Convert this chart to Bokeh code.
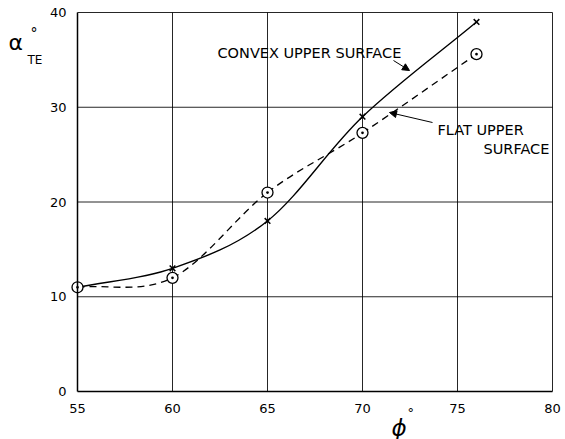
import numpy as np
from bokeh.plotting import figure
from bokeh.models import Label, Arrow, NormalHead, Range1d, FixedTicker, ColumnDataSource
from bokeh.embed import file_html
from bokeh.resources import INLINE

# ---- data ----
phi = [55, 60, 65, 70, 76]
alpha_convex = [11, 13, 18, 29, 39]
alpha_flat = [11, 12, 21, 27.3, 35.6]

x_ticks = [55, 60, 65, 70, 75, 80]
y_ticks = [0, 10, 20, 30, 40]

label_convex = "CONVEX UPPER SURFACE"
label_flat_1 = "FLAT UPPER"
label_flat_2 = "SURFACE"


def smooth_segments(xs, ys):
    """Cubic Bezier segments (Catmull-Rom style) passing through the data points."""
    x = np.array(xs, float)
    y = np.array(ys, float)
    n = len(x)
    tx = np.zeros(n)
    ty = np.zeros(n)
    tx[1:-1] = (x[2:] - x[:-2]) / 2
    ty[1:-1] = (y[2:] - y[:-2]) / 2
    tx[0], ty[0] = x[1] - x[0], y[1] - y[0]
    tx[-1], ty[-1] = x[-1] - x[-2], y[-1] - y[-2]
    return dict(
        x0=x[:-1], y0=y[:-1], x1=x[1:], y1=y[1:],
        cx0=x[:-1] + tx[:-1] / 3, cy0=y[:-1] + ty[:-1] / 3,
        cx1=x[1:] - tx[1:] / 3, cy1=y[1:] - ty[1:] / 3,
    )


FONT = "DejaVu Sans"
W, H = 565, 439
# plot box position on the canvas (pixels)
LEFT, RIGHT, TOP, BOTTOM = 77, 552, 12, 391
xs_px = (RIGHT - LEFT) / (x_ticks[-1] - x_ticks[0])
ys_px = (BOTTOM - TOP) / (y_ticks[-1] - y_ticks[0])
x_lo = x_ticks[0] - LEFT / xs_px
x_hi = x_ticks[-1] + (W - RIGHT) / xs_px
y_lo = y_ticks[0] - (H - BOTTOM) / ys_px
y_hi = y_ticks[-1] + TOP / ys_px


def dx(px):
    return x_ticks[0] + (px - LEFT) / xs_px


def dy(py):
    return y_ticks[0] + (BOTTOM - py) / ys_px


p = figure(
    width=W, height=H,
    x_range=Range1d(x_lo, x_hi), y_range=Range1d(y_lo, y_hi),
    output_backend="svg", toolbar_location=None, min_border=0,
    background_fill_color="white", border_fill_color="white",
)
p.outline_line_color = None
p.xgrid.visible = False
p.ygrid.visible = False

# grid lines limited to the plot box (incl. top and right border)
gx = x_ticks[1:]
gy = y_ticks[1:]
p.segment(x0=gx, y0=[y_ticks[0]] * len(gx), x1=gx, y1=[y_ticks[-1]] * len(gx),
          line_color="black", line_alpha=0.85, line_width=1)
p.segment(x0=[x_ticks[0]] * len(gy), y0=gy, x1=[x_ticks[-1]] * len(gy), y1=gy,
          line_color="black", line_alpha=0.85, line_width=1)

# axes drawn at the plot-box edges
p.xaxis.fixed_location = y_ticks[0]
p.yaxis.fixed_location = x_ticks[0]
p.xaxis.bounds = (x_ticks[0], x_ticks[-1])
p.yaxis.bounds = (y_ticks[0], y_ticks[-1])
for ax in (p.xaxis, p.yaxis):
    ax.axis_line_color = "black"
    ax.axis_line_width = 1.5
    ax.major_tick_line_color = None
    ax.minor_tick_line_color = None
    ax.major_label_text_font = FONT
    ax.major_label_text_font_size = "13px"
    ax.major_label_text_color = "black"
p.xaxis.ticker = FixedTicker(ticks=x_ticks)
p.yaxis.ticker = FixedTicker(ticks=y_ticks)
p.xaxis.major_label_standoff = 6
p.yaxis.major_label_standoff = 5

# curves
conv_src = ColumnDataSource(smooth_segments(phi, alpha_convex))
flat_src = ColumnDataSource(smooth_segments(phi, alpha_flat))
p.bezier(x0="x0", y0="y0", x1="x1", y1="y1", cx0="cx0", cy0="cy0", cx1="cx1", cy1="cy1",
         source=conv_src, line_color="black", line_width=1.4)
p.bezier(x0="x0", y0="y0", x1="x1", y1="y1", cx0="cx0", cy0="cy0", cx1="cx1", cy1="cy1",
         source=flat_src, line_color="black", line_width=1.3, line_dash="7 5")

# markers
p.scatter(phi, alpha_convex, marker="x", size=8, line_color="black", line_width=1.5)
p.scatter(phi, alpha_flat, marker="circle_dot", size=11, fill_color="white",
          line_color="black", line_width=1.3)


def lab(text, px, py, size, style="normal"):
    return Label(x=dx(px), y=dy(py), text=text, text_font=FONT, text_font_size=size,
                 text_font_style=style, text_baseline="middle", text_align="left",
                 text_color="black")


# annotations
p.add_layout(lab(label_convex, 217, 52, "14.5px"))
p.add_layout(Arrow(x_start=dx(393), y_start=dy(60), x_end=dx(409), y_end=dy(70),
                   line_color="black", line_width=1,
                   end=NormalHead(size=7, fill_color="black", line_color="black")))
p.add_layout(lab(label_flat_1, 437, 129, "14.5px"))
p.add_layout(lab(label_flat_2, 483, 148, "14.5px"))
p.add_layout(Arrow(x_start=dx(432), y_start=dy(122), x_end=dx(389), y_end=dy(112),
                   line_color="black", line_width=1,
                   end=NormalHead(size=7, fill_color="black", line_color="black")))

# axis titles
p.add_layout(lab("α", 8, 42, "22px"))
p.add_layout(lab("°", 30, 32, "14px"))
p.add_layout(lab("TE", 27, 59, "12px"))
p.add_layout(lab("ϕ", 391, 427, "23px", "italic"))
p.add_layout(lab("°", 407, 412, "13px"))

open("out.html", "w").write(file_html(p, INLINE))
